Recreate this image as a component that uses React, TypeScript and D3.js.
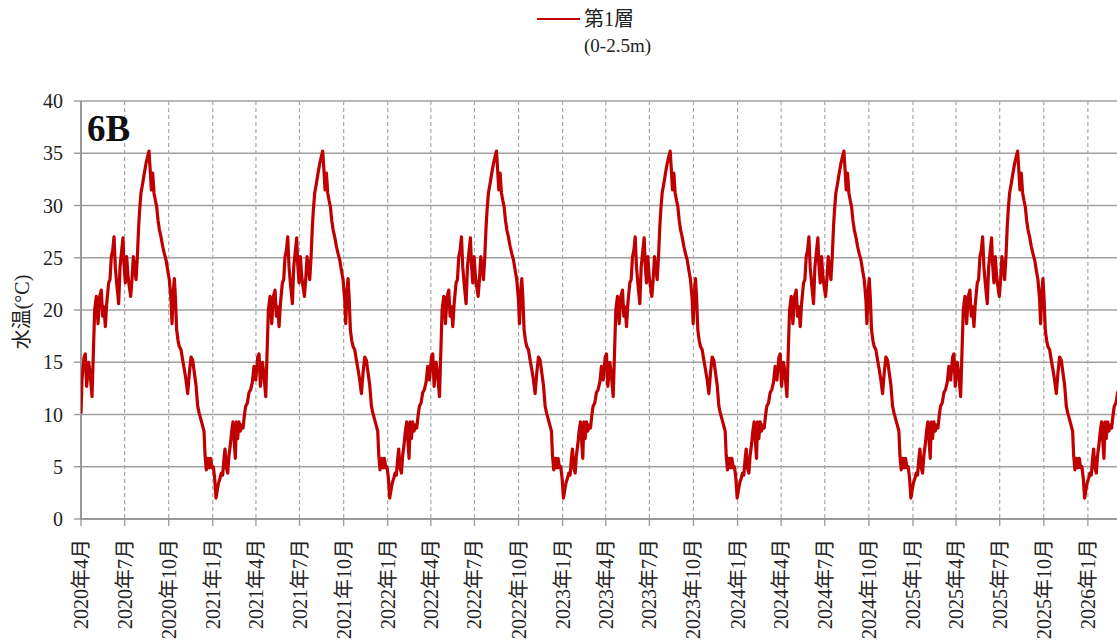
import React from "react";
import * as d3 from "d3";

// one yearly cycle: day offset from 1 Apr and temperature (°C)
// the curve repeats every ~362.5 days
const cycleLength = 362.5;
const firstTemp = 10.1;
const cycleDays = [
  2.1, 6.3, 9.0, 11.8, 16.0, 18.8, 23.0, 25.7, 28.5, 32.0, 35.5, 39.0, 42.4, 45.2, 48.0, 50.8,
  53.6, 57.7, 60.5, 63.3, 66.1, 68.9, 71.6, 74.4, 78.6, 81.4, 84.2, 87.6, 89.7, 92.5, 95.3,
  98.1, 100.9, 103.7, 106.4, 109.2, 112.0, 114.8, 117.6, 120.3, 122.4, 125.2, 128.7, 132.2,
  135.6, 139.1, 141.9, 144.0, 146.8, 149.6, 152.3, 155.1, 157.9, 160.7, 163.5, 166.9, 170.4,
  173.9, 177.4, 180.9, 184.3, 187.8, 189.9, 192.7, 194.8, 196.9, 199.6, 202.4, 205.2, 208.7,
  212.2, 215.6, 219.1, 222.6, 226.1, 229.6, 233.0, 236.5, 240.0, 243.5, 246.2, 249.7, 253.2,
  256.7, 258.8, 261.5, 265.0, 267.8, 270.6, 273.4, 276.1, 278.9, 281.7, 284.5, 287.3, 290.1,
  292.8, 295.6, 298.4, 300.5, 303.3, 306.1, 308.8, 311.6, 314.4, 317.2, 319.3, 322.1, 324.2,
  326.9, 329.7, 332.5, 335.3, 338.1, 340.9, 343.6, 347.1, 350.6, 354.1, 357.6, 361.0,
];
const cycleTemps = [
  13.3, 15.5, 15.8, 12.7, 15.0, 14.0, 11.7, 15.8, 20.0, 21.3, 18.7, 21.3, 21.9, 19.4, 20.3, 18.4,
  20.6, 22.6, 22.9, 25.1, 25.7, 27.0, 24.1, 22.6, 20.6, 24.1, 25.4, 26.9, 24.4, 22.6, 25.1,
  23.2, 22.2, 21.3, 22.9, 25.1, 24.1, 22.9, 25.1, 28.0, 29.6, 31.2, 32.1, 33.1,
  34.0, 34.7, 35.2, 33.7, 31.5, 33.1, 31.2, 30.5, 29.9, 28.6, 27.7, 27.0, 26.1,
  25.4, 24.8, 23.8, 22.9, 21.0, 18.7, 21.9, 23.0, 21.3, 18.1, 17.1, 16.5, 16.2,
  15.2, 14.3, 13.3, 12.0, 14.0, 15.5, 15.2, 14.0, 12.8, 10.8, 10.2, 9.6, 9.0,
  8.4, 6.1, 4.7, 5.8, 4.9, 5.8, 4.9, 5.0, 3.9, 2.0, 2.8, 3.5, 3.9,
  4.4, 4.2, 5.8, 6.7, 4.9, 4.4, 6.1, 7.1, 8.4, 9.3, 7.7, 5.8, 9.3,
  7.7, 9.3, 8.4, 9.0, 8.7, 9.9, 10.8, 11.1, 12.1, 12.4, 13.1, 14.6,
];
const cycleCount = 6;
const yTicks = [0, 5, 10, 15, 20, 25, 30, 35, 40];

const startDate = new Date(2020, 3, 1);
const endDate = new Date(2026, 3, 1);
const DAY = 864e5;

const W = 1117;
const H = 643;
const margin = { top: 101, left: 81, bottom: 124 };
const plotRight = 1131;
const serif = "'Liberation Serif', 'Times New Roman', serif";
const cjk = "'Liberation Serif', 'Noto Sans CJK JP', serif";

type Pt = { date: Date; temp: number };

const series: Pt[] = [{ date: startDate, temp: firstTemp }];
for (let k = 0; k < cycleCount; k++) {
  cycleDays.forEach((d, i) => {
    series.push({
      date: new Date(startDate.getTime() + (k * cycleLength + d) * DAY),
      temp: cycleTemps[i],
    });
  });
}

export default function App() {
  const x = d3.scaleTime().domain([startDate, endDate]).range([margin.left, plotRight]);
  const y = d3
    .scaleLinear()
    .domain([0, 40])
    .range([H - margin.bottom, margin.top]);

  const xTicks = d3.timeMonth.every(3)!.range(startDate, endDate);
  const line = d3
    .line<Pt>()
    .x((d) => x(d.date))
    .y((d) => y(d.temp));

  const y0 = y(0);
  const grid = "#a0a0a0";
  const red = "#c00000";

  return (
    <svg
      width={W}
      height={H}
      style={{ position: "absolute", left: 0, top: 0, background: "#fff" }}
    >
      <defs>
        <clipPath id="plot">
          <rect x={margin.left} y={margin.top - 5} width={plotRight - margin.left} height={y0 - margin.top + 5} />
        </clipPath>
      </defs>

      {/* legend */}
      <line x1={537} x2={580} y1={19} y2={19} stroke={red} strokeWidth={2} />
      <text x={584} y={26} fontSize={20} fontFamily={cjk} fill="#222">
        第1層
      </text>
      <text x={584} y={52} fontSize={19} fontFamily={serif} fill="#222">
        (0-2.5m)
      </text>

      {/* horizontal grid */}
      {yTicks.map((t) => (
        <g key={t}>
          <line x1={margin.left - 7} x2={plotRight} y1={y(t)} y2={y(t)} stroke={grid} strokeWidth={1.4} />
          <text
            x={63}
            y={y(t)}
            dy="0.35em"
            textAnchor="end"
            fontSize={20}
            fontFamily={serif}
            fill="#222"
          >
            {t}
          </text>
        </g>
      ))}

      {/* vertical dashed grid + x labels */}
      {xTicks.map((t, i) => {
        const px = x(t);
        return (
          <g key={i}>
            {i > 0 && (
              <line
                x1={px}
                x2={px}
                y1={margin.top}
                y2={y0}
                stroke="#a8a8a8"
                strokeWidth={1.2}
                strokeDasharray="4,3"
              />
            )}
            <line x1={px} x2={px} y1={y0} y2={y0 + 7} stroke={grid} strokeWidth={1.4} />
            <text
              transform={`translate(${px + 7},${y0 + 20}) rotate(-90)`}
              textAnchor="end"
              fontSize={20}
              fontFamily={cjk}
              fill="#222"
            >
              {`${t.getFullYear()}年${t.getMonth() + 1}月`}
            </text>
          </g>
        );
      })}

      {/* axes */}
      <line x1={margin.left} x2={margin.left} y1={margin.top} y2={y0 + 1} stroke="#999" strokeWidth={2} />
      <line x1={margin.left} x2={plotRight} y1={y0} y2={y0} stroke="#999" strokeWidth={2} />

      {/* series */}
      <path
        d={line(series) ?? ""}
        fill="none"
        stroke={red}
        strokeWidth={3.2}
        strokeLinejoin="round"
        clipPath="url(#plot)"
      />

      {/* panel tag */}
      <text x={87} y={141} fontSize={37} fontWeight="bold" fontFamily={serif} fill="#111">
        6B
      </text>

      {/* y title */}
      <text
        transform={`translate(29,${312}) rotate(-90)`}
        textAnchor="middle"
        fontSize={20}
        fontFamily={cjk}
        fill="#222"
      >
        水温(°C)
      </text>
    </svg>
  );
}
